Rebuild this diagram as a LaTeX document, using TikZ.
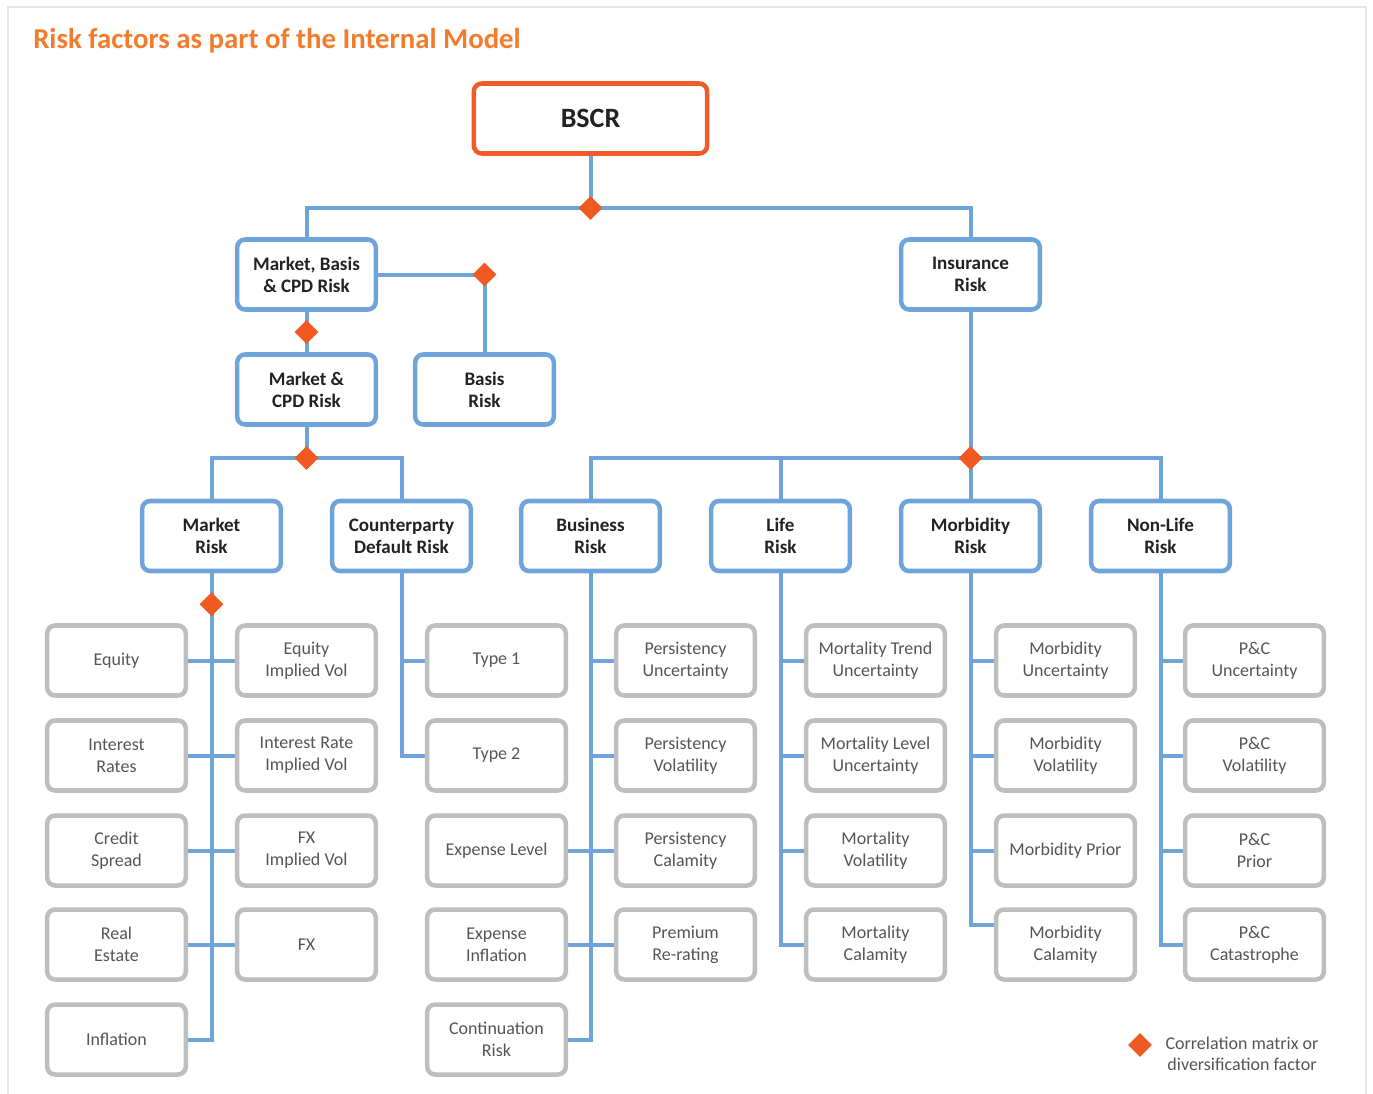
\documentclass[tikz,border=0pt]{standalone}
\usepackage{fontspec}
\setmainfont{Carlito}
\usetikzlibrary{shapes.geometric,calc,backgrounds}
\definecolor{titlec}{HTML}{F27B2C}
\definecolor{orangeb}{HTML}{EF5B2B}
\definecolor{diam}{HTML}{F05A22}
\definecolor{bluec}{HTML}{6FA4DA}
\definecolor{greyc}{HTML}{BEBEBE}
\definecolor{darkc}{HTML}{222222}
\definecolor{greyt}{HTML}{555555}
\definecolor{bordc}{HTML}{E6E6E6}
\tikzset{
  box/.style={rectangle, rounded corners=6pt, line width=3.4pt, minimum width=104pt, minimum height=52.5pt, align=center, inner sep=0pt, fill=white},
  mainbox/.style={box, draw=bluec, text=darkc, font=\bfseries\fontsize{14.3}{16.5}\selectfont},
  leaf/.style={box, draw=greyc, text=greyt, font=\fontsize{13.5}{16.5}\selectfont},
  bscrbox/.style={box, draw=orangeb, minimum width=175pt, minimum height=52.5pt, text=darkc, font=\bfseries\fontsize{21}{24}\selectfont},
  conn/.style={draw=bluec, line width=3pt},
  corr/.style={diamond, fill=diam, inner sep=0pt, minimum size=18pt}
}
\begin{document}
\begin{tikzpicture}[x=0.75pt,y=-0.75pt]
\useasboundingbox (0,0) rectangle (1373,1093);
\draw[draw=bordc, line width=1.2pt] (8,7) rectangle (1366,1110);
\node[anchor=base west, text=titlec, font=\bfseries\fontsize{21.6}{24}\selectfont, inner sep=0pt] (title) at (33,48) {Risk factors as part of the Internal Model};

% level 0/1/2
\node[bscrbox] (bscr) at (590.5,118.5) {BSCR};
\node[mainbox] (mbcpd) at (306.5,274.5) {Market, Basis\\\& CPD Risk};
\node[mainbox] (ins) at (970.5,274.5) {Insurance\\Risk};
\node[mainbox] (mcpd) at (306.5,389.5) {Market \&\\CPD Risk};
\node[mainbox] (basis) at (484.5,389.5) {Basis\\Risk};
\node[mainbox] (mktr) at (211.5,536) {Market\\Risk};
\node[mainbox] (cpd) at (401.5,536) {Counterparty\\Default Risk};
\node[mainbox] (bus) at (590.5,536) {Business\\Risk};
\node[mainbox] (life) at (780.5,536) {Life\\Risk};
\node[mainbox] (morb) at (970.5,536) {Morbidity\\Risk};
\node[mainbox] (nonlife) at (1160.5,536) {Non-Life\\Risk};

% leaves
\node[leaf] (equity) at (116.5,660.5) {Equity};
\node[leaf] (ir) at (116.5,755.5) {Interest\\Rates};
\node[leaf] (cs) at (116.5,850.5) {Credit\\Spread};
\node[leaf] (re) at (116.5,944.5) {Real\\Estate};
\node[leaf] (infl) at (116.5,1039.5) {Inflation};
\node[leaf] (eiv) at (306.5,660.5) {Equity\\Implied Vol};
\node[leaf] (irv) at (306.5,755.5) {Interest Rate\\Implied Vol};
\node[leaf] (fxv) at (306.5,850.5) {FX\\Implied Vol};
\node[leaf] (fx) at (306.5,944.5) {FX};
\node[leaf] (t1) at (496.5,660.5) {Type 1};
\node[leaf] (t2) at (496.5,755.5) {Type 2};
\node[leaf] (el) at (496.5,850.5) {Expense Level};
\node[leaf] (ei) at (496.5,944.5) {Expense\\Inflation};
\node[leaf] (cr) at (496.5,1039.5) {Continuation\\Risk};
\node[leaf] (pu) at (685.5,660.5) {Persistency\\Uncertainty};
\node[leaf] (pv) at (685.5,755.5) {Persistency\\Volatility};
\node[leaf] (pc) at (685.5,850.5) {Persistency\\Calamity};
\node[leaf] (pr) at (685.5,944.5) {Premium\\Re-rating};
\node[leaf] (mtu) at (875.5,660.5) {Mortality Trend\\Uncertainty};
\node[leaf] (mlu) at (875.5,755.5) {Mortality Level\\Uncertainty};
\node[leaf] (mv) at (875.5,850.5) {Mortality\\Volatility};
\node[leaf] (mc) at (875.5,944.5) {Mortality\\Calamity};
\node[leaf] (bu) at (1065.5,660.5) {Morbidity\\Uncertainty};
\node[leaf] (bv) at (1065.5,755.5) {Morbidity\\Volatility};
\node[leaf] (bp) at (1065.5,850.5) {Morbidity Prior};
\node[leaf] (bc) at (1065.5,944.5) {Morbidity\\Calamity};
\node[leaf] (pcu) at (1254.5,660.5) {P\&C\\Uncertainty};
\node[leaf] (pcv) at (1254.5,755.5) {P\&C\\Volatility};
\node[leaf] (pcp) at (1254.5,850.5) {P\&C\\Prior};
\node[leaf] (pcc) at (1254.5,944.5) {P\&C\\Catastrophe};

\coordinate (j0) at (590.5,208);
\coordinate (j2) at (306.5,458);
\coordinate (j3) at (970.5,458);

\begin{scope}[on background layer]
\draw[conn] (bscr.south) -- (j0);
\draw[conn] (mbcpd.north) |- (j0) -| (ins.north);
\draw[conn] (mbcpd.east) -| (basis.north);
\draw[conn] (mbcpd.south) -- (mcpd.north);
\draw[conn] (mcpd.south) -- (j2);
\draw[conn] (mktr.north) |- (j2) -| (cpd.north);
\draw[conn] (ins.south) -- (j3);
\draw[conn] (bus.north) |- (j3) -| (nonlife.north);
\draw[conn] (life.north) -- (life.north |- j3);
\draw[conn] (morb.north) -- (j3);
% market risk
\draw[conn] (mktr.south) |- (infl.east);
\foreach \n in {equity,ir,cs,re} \draw[conn] (\n.east) -- (\n.east -| mktr.south);
\foreach \n in {eiv,irv,fxv,fx} \draw[conn] (\n.west) -- (\n.west -| mktr.south);
% counterparty
\draw[conn] (cpd.south) |- (t2.west);
\draw[conn] (t1.west) -- (t1.west -| cpd.south);
% business
\draw[conn] (bus.south) |- (cr.east);
\foreach \n in {pu,pv,pc,pr} \draw[conn] (\n.west) -- (\n.west -| bus.south);
\foreach \n in {el,ei} \draw[conn] (\n.east) -- (\n.east -| bus.south);
% life
\draw[conn] (life.south) |- (mc.west);
\foreach \n in {mtu,mlu,mv} \draw[conn] (\n.west) -- (\n.west -| life.south);
% morbidity
\draw[conn] (morb.south) |- ([yshift=14.6pt]bc.west);
\foreach \n in {bu,bv,bp} \draw[conn] (\n.west) -- (\n.west -| morb.south);
% non-life
\draw[conn] (nonlife.south) |- (pcc.west);
\foreach \n in {pcu,pcv,pcp} \draw[conn] (\n.west) -- (\n.west -| nonlife.south);
\end{scope}

% correlation diamonds
\node[corr] (d0) at (j0) {};
\node[corr] (d1) at (basis.north |- mbcpd.east) {};
\node[corr] (d2) at ($(mbcpd.south)!0.5!(mcpd.north)$) {};
\node[corr] (d3) at (j2) {};
\node[corr] (d4) at (j3) {};
\node[corr] (d5) at ($(mktr.south)+(0,31)$) {};

% legend
\node[corr] (ldiam) at (1140,1045) {};
\node[text=greyt, font=\fontsize{13.5}{16}\selectfont, align=center, inner sep=0pt] (ltext) at (1242,1054) {Correlation matrix or\\diversification factor};
\end{tikzpicture}
\end{document}
